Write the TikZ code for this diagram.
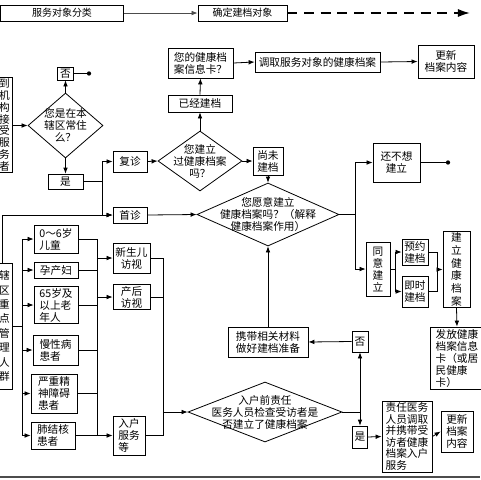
\documentclass[tikz,border=0pt]{standalone}
\usepackage{fontspec}
\setmainfont{Noto Sans CJK SC}
\usetikzlibrary{arrows.meta,shapes.geometric}
\newcommand{\fs}{\fontsize{8}{9}\selectfont}
\tikzset{
  box/.style={draw, line width=0.6pt, inner sep=1pt, align=center, font=\fs},
  wh/.style 2 args={minimum width=#1*0.75pt, minimum height=#2*0.75pt},
  dia/.style 2 args={draw, line width=0.6pt, diamond, inner sep=0pt,
    minimum width=#1*0.75pt, minimum height=#2*0.75pt},
  ln/.style={line width=0.6pt},
  arr/.style={ln, -{Latex[length=4.5pt,width=3.5pt]}},
}
\begin{document}
\begin{tikzpicture}[x=0.75pt,y=-0.75pt]
    \useasboundingbox (0,0) rectangle (480,480);

    % top banner
    \node[box, wh={123}{16}, font=\fontsize{7.5}{9}\selectfont] (top1) at (62,13) {服务对象分类};
    \node[box, wh={89}{16}, font=\fontsize{7.5}{9}\selectfont] (top2) at (242.5,13) {确定建档对象};
    \coordinate (tend) at (470,13);
    \draw[arr, black!70] (top1) -- (top2);
    \draw[line width=1.2pt, dash pattern=on 7.5pt off 5pt, -{Latex[length=9pt,width=6pt]}] (top2) -- (tend);

    % upper part
    \node[box, wh={15}{94}, font=\fontsize{8}{8.8}\selectfont] (lb1) at (4.5,125) {到\\机\\构\\接\\受\\服\\务\\者};
    \node[dia={75}{65}, label={[font=\fs, align=center]center:{您是在本\\辖区常住\\么？}}] (d1) at (65.5,125.5) {};
    \node[box, wh={16}{13}] (no1) at (65.5,73.5) {否};
    \coordinate (e1) at (89,73.5);
    \node[box, wh={35}{15}] (yes1) at (65.5,181.5) {是};
    \node[box, wh={34}{21}] (fz) at (130,161.5) {复诊};
    \node[box, wh={34}{16}] (sz) at (130,215) {首诊};
    \node[dia={84}{60}, label={[font=\fs, align=center]center:{您建立\\过健康档案\\吗？}}] (d2) at (200,161) {};
    \node[box, wh={64}{17}] (yjjd) at (200,103.5) {已经建档};
    \node[box, wh={65}{30}] (xxk) at (200.5,63) {您的健康档\\案信息卡？};
    \node[box, wh={125}{20}] (dq) at (317.5,62) {调取服务对象的健康档案};
    \node[box, wh={56}{33}] (gx1) at (446,61.5) {更新\\档案内容};
    \node[box, wh={30}{28}] (wjd) at (268,161) {尚未\\建档};
    \node[dia={142}{63}, label={[font=\fs, align=center]center:{您愿意建立\\健康档案吗？（解释\\健康档案作用）}}] (d3) at (268,214.5) {};
    \node[box, wh={47}{39}] (bxl) at (396.5,162.5) {还不想\\建立};
    \coordinate (e2) at (448,162.5);
    \node[box, wh={24}{54}] (ty) at (378,269) {同\\意\\建\\立};
    \node[box, wh={26}{26}] (yy) at (415,252) {预约\\建档};
    \node[box, wh={26}{31}] (js) at (415,291.5) {即时\\建档};
    \node[box, wh={27}{75}, font=\fontsize{8}{9.5}\selectfont] (jl) at (456.5,269.5) {建\\立\\健\\康\\档\\案};
    \node[box, wh={54}{62}, align=left] (ff) at (457,358) {发放健康\\档案信息\\卡（或居\\民健康\\卡）};
    \node[box, wh={80}{30}] (xd) at (268,342) {携带相关材料\\做好建档准备};
    \node[box, wh={16}{21}] (no2) at (360,341.5) {否};

    % lower part
    \node[box, wh={15}{126}, font=\fontsize{8}{10.8}\selectfont] (lb2) at (4.5,326) {辖\\区\\重\\点\\管\\理\\人\\群};
    \node[box, wh={44}{28}, align=left] (et) at (56,239) {0～6岁\\儿童};
    \node[box, wh={44}{16}, align=left] (yc) at (56,270) {孕产妇};
    \node[box, wh={44}{36}, align=left] (lr) at (56,305) {65岁及\\以上老\\年人};
    \node[box, wh={45}{30}, align=left] (mx) at (55.5,350) {慢性病\\患者};
    \node[box, wh={46}{39}, align=left] (jz) at (54,393.5) {严重精\\神障碍\\患者};
    \node[box, wh={44}{27}, align=left] (fj) at (53,435.5) {肺结核\\患者};
    \node[box, wh={37}{30}] (xse) at (131.5,258) {新生儿\\访视};
    \node[box, wh={37}{24}] (ch) at (131.5,297) {产后\\访视};
    \node[box, wh={32}{39}, align=left] (rh) at (129,435.5) {入户\\服务\\等};
    \node[dia={154}{60}, label={[font=\fs, align=center]center:{入户前责任\\医务人员检查受访者是\\否建立了健康档案}}] (d4) at (265,412) {};
    \node[box, wh={15}{22}] (yes2) at (360,437) {是};
    \node[box, wh={50}{71}, align=left, font=\fontsize{8}{8.7}\selectfont] (zr) at (407,436.5) {责任医务\\人员调取\\并携带受\\访者健康\\档案入户\\服务};
    \node[box, wh={32}{41}] (gx2) at (457,431.5) {更新\\档案\\内容};

    % connectors, upper part
    \draw[arr] (lb1.east |- d1) -- (d1.west);
    \draw[arr] (d1.north) -- (no1.south);
    \draw[ln] (no1.east) -- (e1);
    \fill (e1) circle[radius=1.6pt];
    \draw[arr] (d1.south) -- (yes1.north);
    \coordinate (b1) at (102,181.5);
    \draw[ln] (yes1.east) -- (b1);
    \draw[arr] (b1) |- (fz.west);
    \draw[arr] (b1) |- (sz.west);
    \coordinate (b0) at (2,215);
    \draw[arr] (b0 |- lb2.north) -- (b0) -- (sz.west);
    \draw[arr] (fz.east) -- (d2.west);
    \draw[arr] (d2.north) -- (yjjd.south);
    \draw[arr] (yjjd.north) -- (xxk.south);
    \draw[arr] (xxk.east) -- (dq.west);
    \draw[arr] (dq.east) -- (gx1.west);
    \draw[arr] (d2.east) -- (wjd.west);
    \draw[arr] (wjd.south) -- (d3.north);
    \draw[arr] (sz.east) -- (d3.west);
    \coordinate (b2) at (355,214.5);
    \draw[ln] (d3.east) -- (b2);
    \draw[arr] (b2) |- (bxl.west);
    \draw[arr] (b2) |- (ty.west);
    \draw[ln] (bxl.east) -- (e2);
    \fill (e2) circle[radius=1.6pt];
    \coordinate (b3) at (395,269);
    \draw[ln] (ty.east) -- (b3);
    \draw[arr] (b3) |- (yy.west);
    \draw[arr] (b3) |- (js.west);
    \coordinate (b4) at (437,269.5);
    \draw[ln] (yy.east) -| (b4);
    \draw[ln] (js.east) -| (b4);
    \draw[arr] (b4) -- (jl.west);
    \draw[arr] (jl.south) -- (ff.north);
    \draw[arr] (no2.west) -- (xd.east);
    \draw[arr] (xd.north) -- (d3.south);

    % connectors, lower part
    \coordinate (c1) at (22,326);
    \draw[ln] (lb2.east |- c1) -- (c1);
    \draw[ln] (c1 |- et) -- (c1 |- fj);
    \foreach \n in {et,yc,lr,mx,jz,fj}
        \draw[arr] (c1 |- \n) -- (\n.west);
    \coordinate (c2) at (97,326);
    \foreach \n in {et,yc,lr,mx,jz,fj}
        \draw[ln] (\n.east) -- (c2 |- \n);
    \draw[ln] (c2 |- et) -- (c2 |- fj);
    \foreach \n in {xse,ch,rh}
        \draw[arr] (c2 |- \n) -- (\n.west);
    \coordinate (c3) at (163,412);
    \foreach \n in {xse,ch,rh}
        \draw[ln] (\n.east) -- (c3 |- \n);
    \draw[ln] (c3 |- xse) -- (c3 |- rh);
    \draw[arr] (c3) -- (d4.west);
    \coordinate (c4) at (360,412);
    \draw[ln] (d4.east) -- (c4);
    \draw[arr] (c4) -- (no2.south);
    \draw[arr] (c4) -- (yes2.north);
    \draw[arr] (yes2.east) -- (zr.west);
    \draw[arr] (zr.east) -- (gx2.west);

    \draw[line width=1.6pt, black!70] (0,477) -- (480,477);
\end{tikzpicture}
\end{document}
